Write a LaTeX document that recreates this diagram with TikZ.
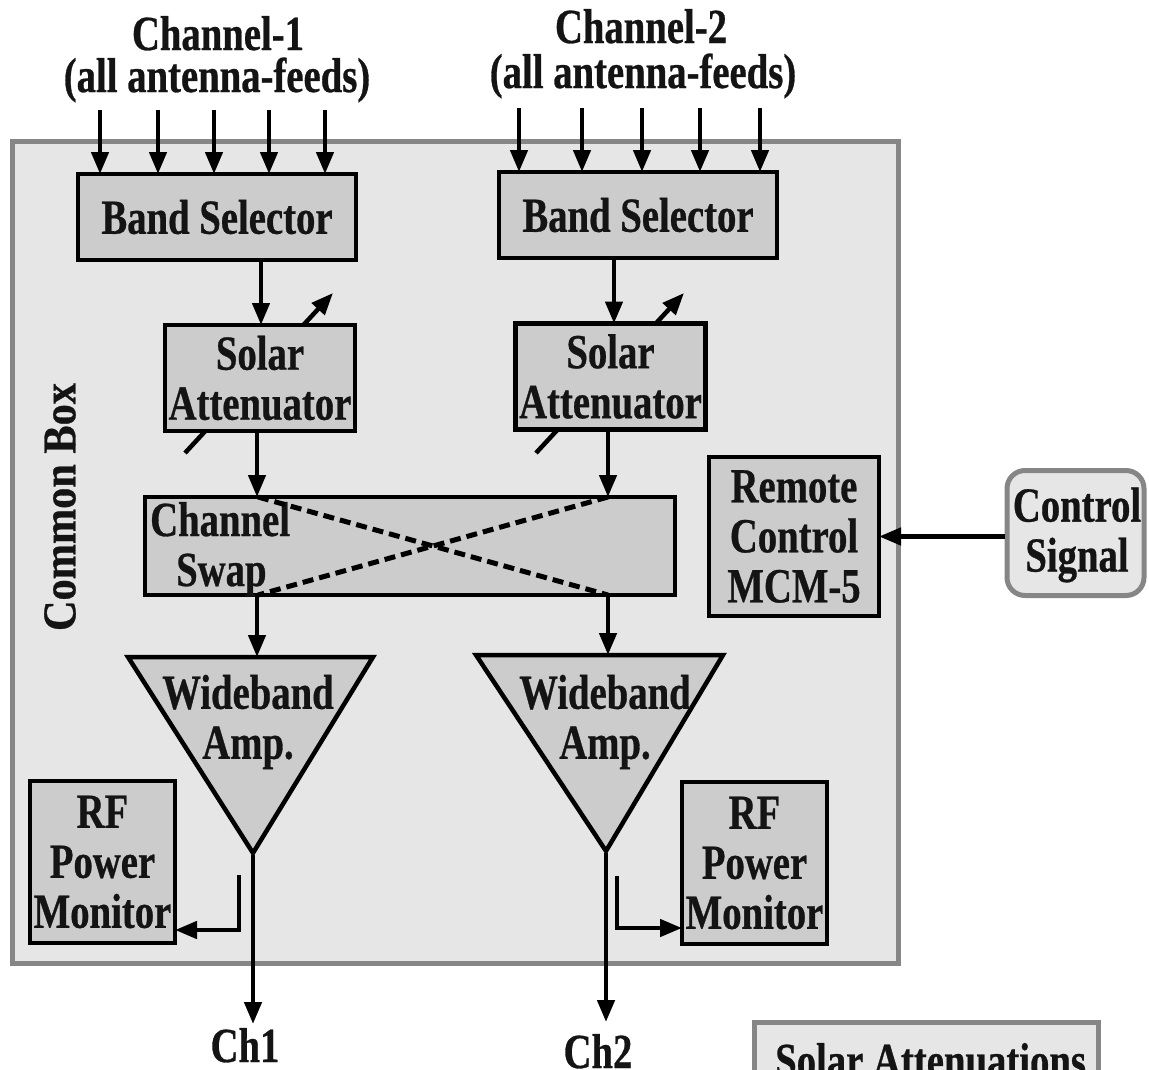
\documentclass[tikz,border=0pt]{standalone}
\usepackage{fontspec}
\newfontfamily\lbl{Liberation Serif}[FakeStretch=0.79, FakeBold=0.6]
\newfontfamily\lblside{Liberation Serif}[FakeStretch=0.9, FakeBold=0.6]
\usetikzlibrary{arrows.meta}
\definecolor{boxfill}{HTML}{CCCCCC}
\definecolor{panel}{HTML}{E6E6E6}
\definecolor{rim}{HTML}{868686}
\definecolor{ink}{HTML}{141414}

\tikzset{
  lab/.style={font=\lbl\bfseries\fontsize{49}{50}\selectfont, text=ink, align=center, inner sep=0pt},
  blk/.style={draw=black, line width=4.5pt, fill=boxfill, inner sep=0pt, outer sep=0pt},
  outerbox/.style={draw=rim, line width=5pt, fill=panel},
  sig/.style={line width=4.5pt, -{Triangle[length=22pt,width=17pt]}},
  swapline/.style={line width=5pt, dash pattern=on 11pt off 6pt},
  amp/.style={draw=black, line width=4.5pt, fill=boxfill, line join=miter},
}

\begin{document}
\begin{tikzpicture}[x=1pt,y=-1pt]
\path[use as bounding box, clip] (0,0) rectangle (1149,1069);
\fill[white] (0,0) rectangle (1149,1069);

% common enclosure
\draw[outerbox] (12,141) rectangle (898,963);
\node[lab, font=\lblside\bfseries\fontsize{47}{50}\selectfont, rotate=90] (cbox) at (60,507) {Common Box};

% channel headings
\node[lab, anchor=base] (h1a) at (218,50) {Channel-1};
\node[lab, anchor=base] (h1b) at (217,92) {(all antenna-feeds)};
\node[lab, anchor=base] (h2a) at (641,43) {Channel-2};
\node[lab, anchor=base] (h2b) at (643,88) {(all antenna-feeds)};

% variable-attenuator arrows (run behind the boxes)
\coordinate (va1a) at (185,453); \coordinate (va1b) at (333,293);
\coordinate (va2a) at (536,453); \coordinate (va2b) at (684,293);
\draw[sig] (va1a) -- (va1b);
\draw[sig] (va2a) -- (va2b);

% blocks
\node[blk, minimum width=278pt, minimum height=86pt, lab] (bs1) at (217,217) {Band Selector};
\node[blk, minimum width=278pt, minimum height=86pt, lab] (bs2) at (638,215) {Band Selector};
\node[blk, minimum width=190pt, minimum height=106pt, lab] (sa1) at (260,378) {Solar\\Attenuator};
\node[blk, minimum width=190pt, minimum height=106pt, lab] (sa2) at (610.5,376.5) {Solar\\Attenuator};
\node[blk, minimum width=530pt, minimum height=98pt] (swap) at (410,546) {};
\node[lab, anchor=base west] (swapA) at (150,536) {Channel};
\node[lab, anchor=base west] (swapB) at (176,586) {Swap};
\node[blk, minimum width=170pt, minimum height=159pt, lab] (rc) at (794,536.5) {Remote\\Control\\MCM-5};
\node[blk, minimum width=145pt, minimum height=162pt, lab] (rf1) at (102.5,862) {RF\\Power\\Monitor};
\node[blk, minimum width=145pt, minimum height=162pt, lab] (rf2) at (754.5,863) {RF\\Power\\Monitor};
\node[draw=rim, line width=5pt, fill=panel, rounded corners=18pt, minimum width=137pt, minimum height=125pt, inner sep=0pt] (ctrl) at (1075.5,533) {};
\node[lab] (ctrlt) at (1077,535) {Control\\Signal};

% amplifiers
\draw[amp] (128,657) -- (373,657) -- (253,853) -- cycle;
\draw[amp] (476,655) -- (723,655) -- (606,851) -- cycle;
\coordinate (amp1in) at (257,657); \coordinate (amp1out) at (253,855);
\coordinate (amp2in) at (608,655); \coordinate (amp2out) at (606,853);
\node[lab] (amp1t) at (248,722) {Wideband\\Amp.};
\node[lab] (amp2t) at (605,722) {Wideband\\Amp.};

% swap cross-connections
\coordinate (sw1t) at (258,497); \coordinate (sw2t) at (608,497);
\coordinate (sw1b) at (258,595); \coordinate (sw2b) at (608,595);
\draw[swapline] (sw1t) -- (sw2b);
\draw[swapline] (sw2t) -- (sw1b);

% antenna-feed inputs
\foreach \x [count=\i] in {100,158,214,269,325}{
  \coordinate (fa\i) at (\x,110);
  \draw[sig] (fa\i) -- (fa\i |- bs1.north);
}
\foreach \x [count=\i] in {519,582,642,700,760}{
  \coordinate (fb\i) at (\x,108);
  \draw[sig] (fb\i) -- (fb\i |- bs2.north);
}

% signal chain, channel 1
\draw[sig] (bs1.south -| 261,0) -- (sa1.north -| 261,0);
\draw[sig] (sa1.south -| 257,0) -- (swap.north -| 257,0);
\draw[sig] (swap.south -| 257,0) -- (amp1in);
\coordinate (out1) at (253,1024);
\draw[sig] (amp1out) -- (out1);
\node[lab, anchor=base] (ch1) at (245,1062) {Ch1};

% signal chain, channel 2
\draw[sig] (bs2.south -| 614,0) -- (sa2.north -| 614,0);
\draw[sig] (sa2.south -| 608,0) -- (swap.north -| 608,0);
\draw[sig] (swap.south -| 608,0) -- (amp2in);
\coordinate (out2) at (606,1022);
\draw[sig] (amp2out) -- (out2);
\node[lab, anchor=base] (ch2) at (598,1068) {Ch2};

% power-monitor couplers
\coordinate (cp1) at (239,875); \coordinate (cp1b) at (239,930);
\draw[sig] (cp1) -- (cp1b) -- (rf1.east |- cp1b);
\coordinate (cp2) at (617,876); \coordinate (cp2b) at (617,928);
\draw[sig] (cp2) -- (cp2b) -- (rf2.west |- cp2b);

% remote control input
\draw[sig] (ctrl.west |- rc.east) -- (rc.east);

% legend box
\draw[outerbox] (754,1022) rectangle (1098,1120);
\node[lab, anchor=base west] (legend) at (775,1077) {Solar Attenuations};
\end{tikzpicture}
\end{document}
